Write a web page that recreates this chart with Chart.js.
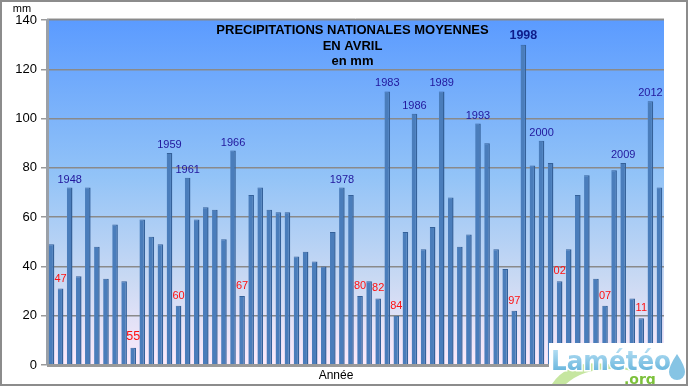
<!DOCTYPE html>
<html>
<head>
<meta charset="utf-8">
<script src="https://cdn.jsdelivr.net/npm/chart.js@4/dist/chart.umd.min.js"></script>
<style>
  html, body { margin: 0; padding: 0; background: #ffffff; }
  #wrap { width: 688px; height: 386px; }
</style>
</head>
<body>
<div id="wrap"><canvas id="c" width="688" height="386"></canvas></div>
<script>
// ---------- DATA ----------
const years = [1946,1947,1948,1949,1950,1951,1952,1953,1954,1955,
  1956,1957,1958,1959,1960,1961,1962,1963,1964,1965,
  1966,1967,1968,1969,1970,1971,1972,1973,1974,1975,
  1976,1977,1978,1979,1980,1981,1982,1983,1984,1985,
  1986,1987,1988,1989,1990,1991,1992,1993,1994,1995,
  1996,1997,1998,1999,2000,2001,2002,2003,2004,2005,
  2006,2007,2008,2009,2010,2011,2012,2013];
const precipitation = [49,31,72,36,72,48,35,57,34,7,
  59,52,49,86,24,76,59,64,63,51,
  87,28,69,72,63,62,62,44,46,42,
  40,54,72,69,28,34,27,111,20,54,
  102,47,56,111,68,48,53,98,90,47,
  39,22,130,81,91,82,34,47,69,77,
  35,24,79,82,27,19,107,72];
const yTicks = [0,20,40,60,80,100,120,140];
const labelYears = [1947,1948,1955,1959,1960,1961,1966,1967,1978,1980,1982,1983,1984,1986,1989,1993,1997,1998,2000,2002,2007,2009,2011,2012];
const labelTexts = ['47','1948','55','1959','60','1961','1966','67','1978','80','82','1983','84','1986','1989','1993','97','1998','2000','02','07','2009','11','2012'];
const titleLines = ['PRECIPITATIONS NATIONALES MOYENNES', 'EN AVRIL', 'en mm'];
const yUnit = 'mm';
const xTitle = 'Année';

// ---------- PLUGIN ----------
const deco = {
  id: 'deco',
  beforeDraw(chart) {
    const ctx = chart.ctx, a = chart.chartArea;
    ctx.save();
    ctx.fillStyle = '#ffffff';
    ctx.fillRect(0, 0, chart.width, chart.height);
    const g = ctx.createLinearGradient(0, a.top, 0, a.bottom);
    g.addColorStop(0, '#5b9bff');
    g.addColorStop(0.45, '#92c3f7');
    g.addColorStop(0.75, '#c9d9f3');
    g.addColorStop(1, '#fdeafa');
    ctx.fillStyle = g;
    ctx.fillRect(a.left, a.top - 1, a.right - a.left, a.bottom - a.top + 1);
    ctx.strokeStyle = '#c8c8c8';
    ctx.lineWidth = 1;
    ctx.beginPath();
    ctx.moveTo(a.left, a.top - 1.5);
    ctx.lineTo(a.right, a.top - 1.5);
    ctx.stroke();
    ctx.restore();
  },
  afterDatasetsDraw(chart) {
    const ctx = chart.ctx, a = chart.chartArea;
    const xs = chart.scales.x, ys = chart.scales.y;
    ctx.save();
    // floor
    ctx.fillStyle = '#9a9a9a';
    ctx.fillRect(a.left, ys.getPixelForValue(0) - 1, a.right - a.left, 3);
    // data labels
    ctx.textAlign = 'center';
    ctx.textBaseline = 'alphabetic';
    labelYears.forEach((yr, i) => {
      const idx = years.indexOf(yr);
      const t = labelTexts[i];
      const x = xs.getPixelForValue(idx);
      const yTop = ys.getPixelForValue(precipitation[idx]);
      let font = '11px "Liberation Sans", Arial, sans-serif';
      let color = t.length === 2 ? '#ff1010' : '#21169c';
      let off = t.length === 2 ? 7 : 5;
      if (t === '1998') { font = 'bold 12.5px "Liberation Sans", Arial, sans-serif'; color = '#0d1c8a'; off = 6; }
      if (t === '55') { font = '12.5px "Liberation Sans", Arial, sans-serif'; off = 8; }
      ctx.font = font;
      ctx.fillStyle = color;
      ctx.fillText(t, x, yTop - off);
    });
    // title
    const cx = (a.left + a.right) / 2 - 3;
    ctx.fillStyle = '#000000';
    ctx.font = 'bold 13px "Liberation Sans", Arial, sans-serif';
    ctx.textBaseline = 'middle';
    ctx.fillText(titleLines[0], cx, a.top + 10);
    ctx.fillText(titleLines[1], cx, a.top + 26);
    ctx.font = 'bold 13px "Liberation Sans", Arial, sans-serif';
    ctx.fillText(titleLines[2], cx, a.top + 41);
    // unit and axis title
    ctx.font = '11px "Liberation Sans", Arial, sans-serif';
    ctx.fillText(yUnit, 22, 9);
    ctx.font = '12px "Liberation Sans", Arial, sans-serif';
    ctx.fillText(xTitle, 336, 376);
    // logo
    ctx.fillStyle = '#ffffff';
    ctx.fillRect(549, 343, 137, 41);
    ctx.fillStyle = '#c6e6a0';
    ctx.beginPath();
    ctx.moveTo(552, 384);
    ctx.quadraticCurveTo(575, 350, 640, 372);
    ctx.quadraticCurveTo(590, 362, 566, 384);
    ctx.closePath();
    ctx.fill();
    ctx.textAlign = 'left';
    ctx.textBaseline = 'alphabetic';
    ctx.font = 'bold 27px "DejaVu Sans", sans-serif';
    const w = ctx.measureText('Lamétéo').width;
    ctx.save();
    ctx.translate(551, 370);
    ctx.scale(120 / w, 1);
    ctx.lineWidth = 3;
    ctx.strokeStyle = '#ffffff';
    ctx.strokeText('Lamétéo', 0, 0);
    const lg = ctx.createLinearGradient(0, -22, 0, 0);
    lg.addColorStop(0, '#b8e0f4');
    lg.addColorStop(1, '#6db8de');
    ctx.fillStyle = lg;
    ctx.fillText('Lamétéo', 0, 0);
    ctx.restore();
    ctx.font = 'bold 14px "DejaVu Sans", sans-serif';
    ctx.fillStyle = '#7cc13a';
    ctx.fillText('.org', 624, 384);
    // drop
    ctx.fillStyle = '#86c4e4';
    ctx.beginPath();
    ctx.moveTo(677, 354);
    ctx.quadraticCurveTo(685, 366, 685, 372);
    ctx.arc(677, 372, 8, 0, Math.PI, false);
    ctx.quadraticCurveTo(669, 366, 677, 354);
    ctx.fill();
    // outer frame
    ctx.strokeStyle = '#8c8c8c';
    ctx.lineWidth = 2;
    ctx.strokeRect(1, 1, chart.width - 2, chart.height - 2);
    ctx.restore();
  }
};

// ---------- CHART ----------
new Chart(document.getElementById('c'), {
  type: 'bar',
  data: {
    labels: years.map(String),
    datasets: [{
      data: precipitation,
      backgroundColor: '#4a7dbb',
      borderColor: '#34619a',
      borderWidth: { left: 0, right: 1.5, top: 1, bottom: 0 },
      barPercentage: 0.62,
      categoryPercentage: 1.0
    }]
  },
  options: {
    responsive: false,
    animation: false,
    devicePixelRatio: 1,
    layout: { padding: { left: 0, top: 20, right: 24, bottom: 21 } },
    plugins: { legend: { display: false }, tooltip: { enabled: false }, title: { display: false } },
    scales: {
      x: { display: false, offset: true },
      y: {
        min: 0, max: 140,
        afterBuildTicks(s) { s.ticks = yTicks.map(v => ({ value: v })); },
        afterFit(s) { s.width = 47; },
        ticks: { color: '#000000', font: { family: '"Liberation Sans", Arial, sans-serif', size: 13 }, padding: 4 },
        grid: { color: '#8a8a8a', lineWidth: 1.5, tickLength: 6, tickColor: '#9a9a9a' },
        border: { display: true, color: '#9aa0a8', width: 3 }
      }
    }
  },
  plugins: [deco]
});
</script>
</body>
</html>
